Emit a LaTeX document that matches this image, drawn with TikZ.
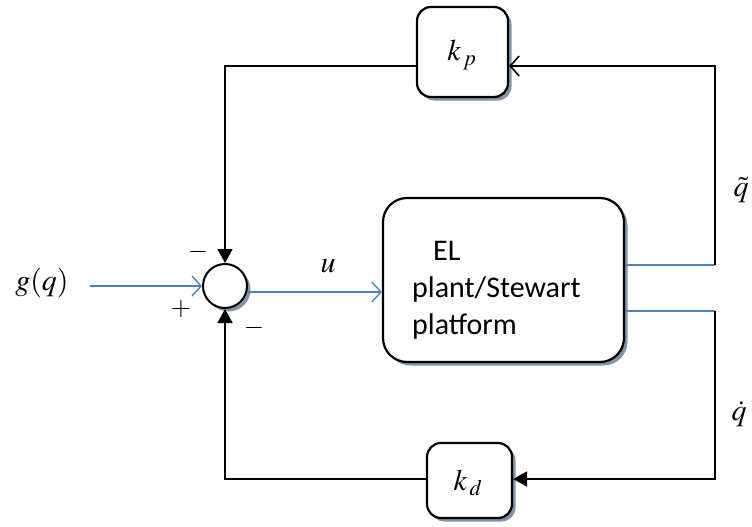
\documentclass[tikz,border=0pt]{standalone}
\usepackage{mathptmx}
\usepackage{fontspec}
\newfontfamily\plantfont{Carlito}
\usetikzlibrary{arrows.meta,shadows}
\definecolor{lineblue}{RGB}{79,129,189}
\definecolor{shadowc}{RGB}{130,146,168}
\begin{document}
\begin{tikzpicture}[x=1pt,y=-1pt,
  myshadow/.style={drop shadow={shadow xshift=3.5pt,shadow yshift=-3.5pt,fill=shadowc,opacity=1}},
  blk/.style={draw=black,line width=2.2pt,fill=white,myshadow,inner sep=0pt},
  fb/.style={draw=black,line width=1.8pt},
  bl/.style={draw=lineblue,line width=1.6pt},
  openblack/.style={-{Straight Barb[length=9pt,width=20pt,line width=1.6pt]}},
  openblue/.style={-{Straight Barb[length=9pt,width=20pt,line width=1.4pt]}},
  filled/.style={-{Triangle[length=14pt,width=15pt]}},
  mlab/.style={font=\fontsize{30}{34}\selectfont,inner sep=0pt},
  sign/.style={font=\fontsize{26}{30}\selectfont,inner sep=0pt}]
\useasboundingbox (0,0) rectangle (752,527);

% blocks
\node[blk,rounded corners=14pt,minimum width=91pt,minimum height=90pt] (kp) at (462.5,52) {};
\node[mlab] (kplab) at (462,55) {$k_{\,p}$};
\node[blk,rounded corners=14pt,minimum width=85pt,minimum height=75pt] (kd) at (469.5,480.5) {};
\node[mlab] (kdlab) at (468,483) {$k_{\,d}$};
\node[blk,rounded corners=24pt,minimum width=241pt,minimum height=164pt] (plant) at (503.5,280) {};
\node[inner sep=0pt,align=left,anchor=north west,font=\plantfont\fontsize{30}{37}\selectfont] (ptext) at (412,241)
  {\hspace*{21pt}EL\\plant/Stewart\\platform};
\node[circle,draw=black,line width=2pt,fill=white,myshadow,minimum size=44pt,inner sep=0pt] (sum) at (225,286) {};

% coordinates
\coordinate (gin) at (90,286);
\coordinate (r1) at (715,265);
\coordinate (r2) at (715,311);
\coordinate (tr) at (715,66);
\coordinate (br) at (715,479);
\coordinate (tl) at (225,66);
\coordinate (bll) at (225,479);

% connectors
\draw[bl,openblue] (gin) -- (sum.west);
\draw[bl,openblue] (sum.-15) -- (plant.west |- sum.-15);
\draw[bl] (plant.east |- r1) -- (r1);
\draw[bl] (plant.east |- r2) -- (r2);
\draw[fb,openblack] (r1) -- (tr) -- (kp.east |- tr);
\draw[fb,filled] (kp.west |- tl) -- (tl) -- (sum.north);
\draw[fb,filled] (r2) -- (br) -- (kd.east |- br);
\draw[fb,filled] (kd.west |- bll) -- (bll) -- (sum.south);

% labels
\node[mlab] (g) at (42,283) {$g(q)$};
\node[mlab] (u) at (328,266) {$u$};
\node[mlab] (qt) at (741,190) {$\tilde{q}$};
\node[mlab] (qd) at (739,414) {$\dot{q}$};
\node[sign] (m1) at (198,252) {$-$};
\node[sign] (p1) at (181,309) {$+$};
\node[sign] (m2) at (254,328) {$-$};
\end{tikzpicture}
\end{document}
